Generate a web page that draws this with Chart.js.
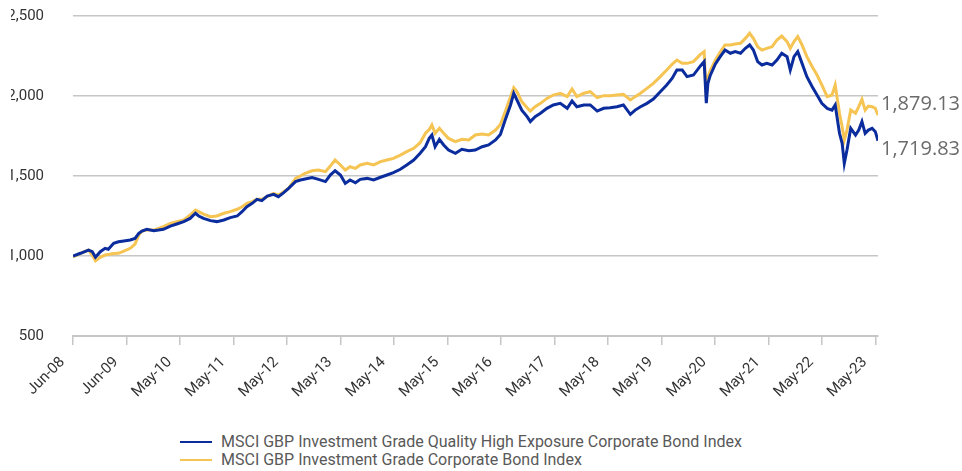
<!DOCTYPE html>
<html>
<head>
<meta charset="utf-8">
<script src="https://cdn.jsdelivr.net/npm/chart.js@4.4.0/dist/chart.umd.min.js"></script>
<style>
  html, body { margin: 0; padding: 0; background: #fff; }
  body { width: 962px; height: 471px; position: relative; overflow: hidden; }
  #wrap { position: absolute; left: 11px; top: 0; width: 951px; height: 420px; }
  #legend { position: absolute; left: 180px; top: 433px; font: 16px Roboto, sans-serif; color: #595959; }
  .item { height: 18px; line-height: 18px; white-space: nowrap; }
  .swatch { display: inline-block; width: 32px; height: 2px; vertical-align: middle; margin-right: 9px; position: relative; top: -1px; }
</style>
</head>
<body>
<div id="wrap"><canvas id="myChart"></canvas></div>
<div id="legend"></div>
<script>
// years since Jun-08 (tick positions are one per year)
var xYears = [
  0, 0.14, 0.29, 0.36, 0.42, 0.51, 0.60, 0.66, 0.76, 0.85,
  0.95, 1.07, 1.16, 1.23, 1.29, 1.38, 1.51, 1.60, 1.69, 1.82,
  1.94, 2.07, 2.19, 2.29, 2.35, 2.44, 2.57, 2.69, 2.82, 2.94,
  3.07, 3.16, 3.25, 3.35, 3.44, 3.53, 3.63, 3.75, 3.84, 3.94,
  4.03, 4.16, 4.25, 4.34, 4.47, 4.59, 4.72, 4.81, 4.90, 5.00,
  5.09, 5.18, 5.28, 5.37, 5.50, 5.62, 5.75, 5.87, 5.99, 6.12,
  6.24, 6.37, 6.49, 6.59, 6.66, 6.71, 6.77, 6.85, 6.93, 7.02,
  7.15, 7.27, 7.40, 7.52, 7.65, 7.77, 7.90, 7.99, 8.08, 8.18,
  8.24, 8.30, 8.39, 8.49, 8.55, 8.64, 8.74, 8.86, 8.98, 9.11,
  9.24, 9.33, 9.42, 9.55, 9.67, 9.80, 9.92, 10.04, 10.17, 10.29,
  10.42, 10.51, 10.61, 10.73, 10.85, 10.98, 11.10, 11.20, 11.29, 11.39,
  11.48, 11.60, 11.73, 11.80, 11.84, 11.87, 11.91, 12.01, 12.10, 12.19, 12.29,
  12.38, 12.48, 12.57, 12.65, 12.72, 12.80, 12.88, 12.97, 13.07, 13.16,
  13.25, 13.35, 13.41, 13.48, 13.55, 13.63, 13.72, 13.82, 13.91, 14.00,
  14.10, 14.19, 14.25, 14.33, 14.38, 14.42, 14.47, 14.54, 14.63, 14.69,
  14.75, 14.81, 14.87, 14.94, 15.00, 15.05
];

var qualityHigh = [
  1000, 1017, 1037, 1027, 992, 1027, 1048, 1042, 1079, 1089,
  1094, 1100, 1110, 1142, 1156, 1167, 1158, 1162, 1167, 1187,
  1200, 1215, 1235, 1267, 1250, 1235, 1221, 1215, 1225, 1240,
  1250, 1277, 1308, 1329, 1354, 1346, 1375, 1385, 1371, 1396,
  1423, 1465, 1475, 1481, 1490, 1479, 1465, 1506, 1533, 1506,
  1454, 1475, 1458, 1479, 1485, 1475, 1492, 1506, 1521, 1542,
  1569, 1600, 1642, 1683, 1735, 1756, 1683, 1729, 1694, 1662,
  1642, 1667, 1658, 1662, 1683, 1694, 1725, 1760, 1850, 1944,
  2017, 1975, 1912, 1871, 1840, 1871, 1892, 1923, 1944, 1954,
  1923, 1969, 1933, 1944, 1944, 1906, 1923, 1927, 1933, 1944,
  1885, 1912, 1933, 1954, 1981, 2027, 2069, 2110, 2162, 2162,
  2121, 2131, 2188, 2215, 1955, 2080, 2125, 2200, 2246, 2287, 2267,
  2277, 2267, 2298, 2319, 2287, 2215, 2194, 2204, 2194, 2225,
  2267, 2246, 2162, 2246, 2277, 2204, 2121, 2058, 2006, 1954,
  1923, 1912, 1944, 1767, 1704, 1579, 1662, 1798, 1756, 1787,
  1840, 1767, 1787, 1798, 1777, 1719.83
];

var corpBond = [
  995, 1017, 1037, 1006, 970, 992, 1006, 1010, 1015, 1017,
  1030, 1048, 1075, 1131, 1156, 1162, 1162, 1173, 1183, 1204,
  1215, 1225, 1256, 1287, 1277, 1262, 1246, 1250, 1267, 1277,
  1292, 1308, 1329, 1340, 1354, 1354, 1371, 1392, 1381, 1402,
  1423, 1485, 1500, 1517, 1533, 1537, 1527, 1562, 1600, 1569,
  1537, 1558, 1548, 1569, 1579, 1569, 1590, 1600, 1610, 1631,
  1652, 1673, 1708, 1767, 1790, 1819, 1767, 1798, 1767, 1735,
  1715, 1729, 1725, 1756, 1762, 1756, 1787, 1822, 1902, 1996,
  2052, 2027, 1965, 1927, 1906, 1933, 1954, 1985, 2006, 2017,
  1996, 2044, 1996, 2017, 2027, 1990, 2002, 2002, 2006, 2010,
  1975, 1996, 2017, 2048, 2079, 2121, 2162, 2198, 2225, 2204,
  2204, 2215, 2260, 2277, 2000, 2120, 2155, 2225, 2275, 2319, 2319,
  2325, 2329, 2360, 2392, 2360, 2308, 2287, 2298, 2308, 2350,
  2375, 2340, 2298, 2340, 2371, 2319, 2246, 2183, 2131, 2069,
  1996, 2006, 2069, 1892, 1808, 1725, 1787, 1912, 1892, 1933,
  1979, 1912, 1937, 1933, 1923, 1879.13
];

var tickLabels = ['Jun-08', 'Jun-09', 'May-10', 'May-11', 'May-12', 'May-13', 'May-14', 'May-15',
  'May-16', 'May-17', 'May-18', 'May-19', 'May-20', 'May-21', 'May-22', 'May-23'];
var seriesNames = ['MSCI GBP Investment Grade Quality High Exposure Corporate Bond Index',
  'MSCI GBP Investment Grade Corporate Bond Index'];

function toPoints(vals) {
    return vals.map(function (v, i) { return { x: xYears[i], y: v }; });
}

// value label at the end of each line
const endLabels = {
    id: 'endLabels',
    afterDatasetsDraw(chart) {
        const ctx = chart.ctx;
        ctx.save();
        ctx.font = '20px "Open Sans"';
        ctx.fillStyle = '#6b6b6b';
        ctx.textBaseline = 'middle';
        chart.data.datasets.forEach(function (ds) {
            var last = ds.data[ds.data.length - 1];
            var y = chart.scales.y.getPixelForValue(last.y) + ds.labelShift;
            var txt = last.y.toLocaleString('en-US', { minimumFractionDigits: 2 });
            ctx.fillText(txt, chart.chartArea.right + 3, y);
        });
        ctx.restore();
    }
};

const ctx = document.getElementById('myChart').getContext('2d');
const myChart = new Chart(ctx, {
    type: 'line',
    data: {
        datasets: [{
            label: seriesNames[0],
            data: toPoints(qualityHigh),
            borderColor: '#0b2c9c',
            borderWidth: 3,
            labelShift: 8
        }, {
            label: seriesNames[1],
            data: toPoints(corpBond),
            borderColor: '#f5c453',
            borderWidth: 3,
            labelShift: -11
        }]
    },
    options: {
        responsive: true,
        maintainAspectRatio: false,
        animation: false,
        elements: { point: { radius: 0 }, line: { tension: 0 } },
        layout: { padding: { top: 16, right: 84, left: 0, bottom: 0 } },
        plugins: { legend: { display: false }, tooltip: { enabled: false } },
        scales: {
            x: {
                type: 'linear',
                min: 0,
                max: 15.05,
                afterBuildTicks: function (s) {
                    s.ticks = tickLabels.map(function (l, i) { return { value: i }; });
                },
                afterFit: function (s) { s.height = 84; },
                grid: { drawOnChartArea: false, drawTicks: true, tickLength: 9, color: '#c6c6c6', lineWidth: 1.5 },
                border: { display: true, color: '#c6c6c6', width: 2 },
                ticks: {
                    autoSkip: false,
                    maxRotation: 45,
                    minRotation: 45,
                    padding: -2,
                    color: '#333',
                    font: { family: 'Roboto', size: 15 },
                    callback: function (v, i) { return tickLabels[i] + '    '; }
                }
            },
            y: {
                min: 500,
                max: 2500,
                afterFit: function (s) {
                    s.width = 62;
                    s.paddingTop = 0;
                    s.paddingBottom = 0;
                },
                grid: { drawTicks: false, color: '#c6c6c6', lineWidth: 1.5 },
                border: { display: false },
                ticks: {
                    stepSize: 500,
                    padding: 29,
                    color: '#333',
                    font: { family: 'Roboto', size: 15 },
                    callback: function (v) { return v.toLocaleString('en-US'); }
                }
            }
        }
    },
    plugins: [endLabels]
});

// legend below the chart, one row per series
var legendBox = document.getElementById('legend');
myChart.data.datasets.forEach(function (ds) {
    var row = document.createElement('div');
    row.className = 'item';
    row.innerHTML = '<span class="swatch" style="background:' + ds.borderColor + '"></span>' + ds.label;
    legendBox.appendChild(row);
});
</script>
</body>
</html>
